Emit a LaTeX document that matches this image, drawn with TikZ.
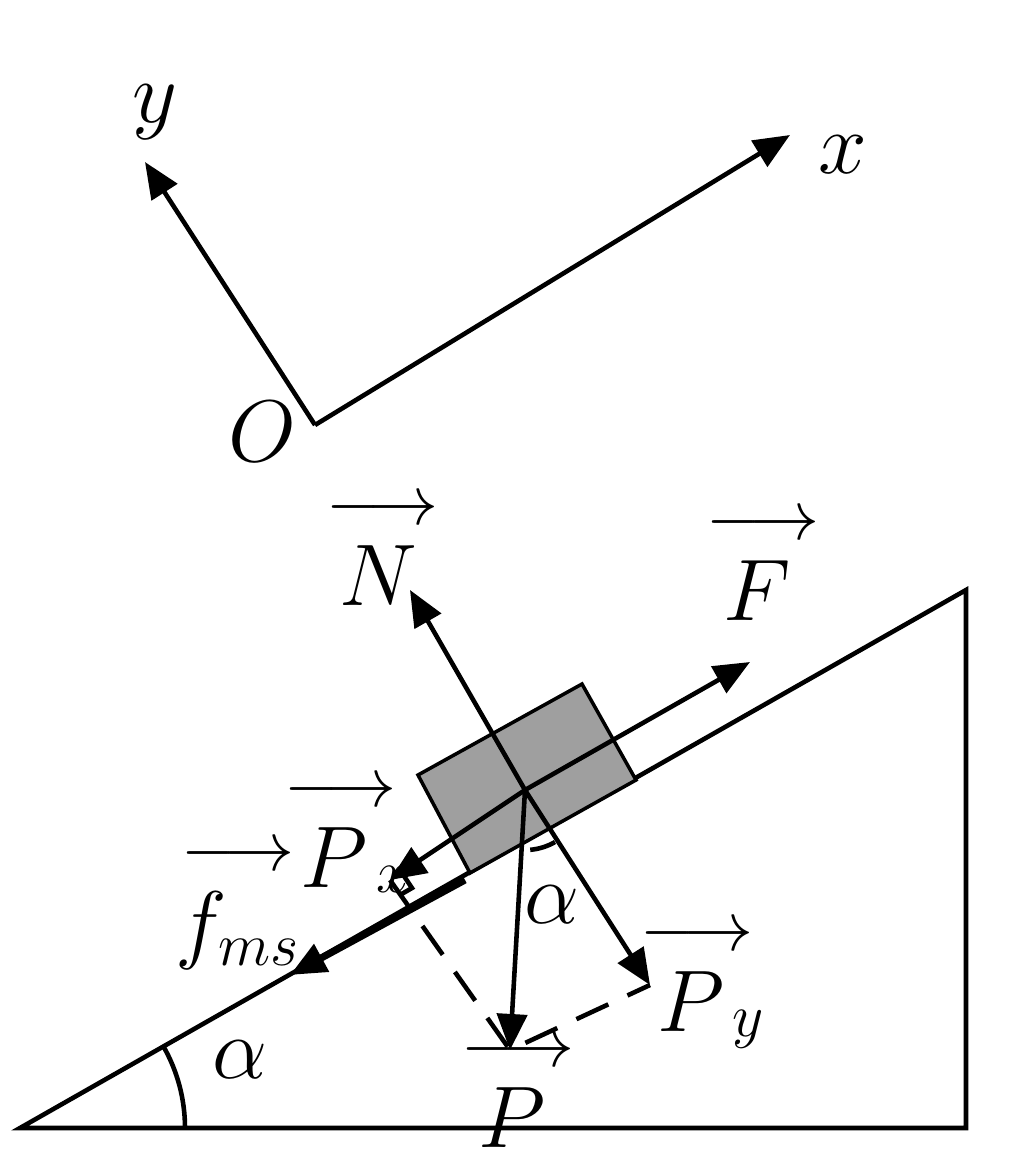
\documentclass[tikz,border=0pt]{standalone}
\usepackage{tikz}
\usetikzlibrary{positioning, calc, arrows.meta}
\tikzstyle{Arrow} = [line width=1.3pt, -{Triangle[length=0.36cm, width=0.3cm]}]
\tikzstyle{Lbl} = [font=\fontsize{27}{30}\selectfont, inner sep=1pt]
\newcommand\vlbl[1]{\ensuremath{\mathop{#1}\limits^{\raisebox{4pt}{\scalebox{0.8}{$\longrightarrow$}}}}}
\begin{document}
\begin{tikzpicture}[x=0.01cm, y=-0.01cm, line width=1.3pt]
    \useasboundingbox (0,0) rectangle (1024,1166);
    % axes
    \coordinate (O) at (315,425);
    \coordinate (xend) at (790,135);
    \coordinate (yend) at (145,162);
    \draw [Arrow] (O) -- (xend);
    \draw [Arrow] (O) -- (yend);
    \node [Lbl] (Olbl) at (262,432) {$O$};
    \node [Lbl] (xlbl) at (843,155) {$x$};
    \node [Lbl] (ylbl) at (155,112) {$y$};
    % incline
    \coordinate (A) at (20,1128);
    \coordinate (B) at (966,1128);
    \coordinate (C) at (966,590);
    \draw [line join=miter] (A) -- (B) -- (C) -- cycle;
    \draw (A) ++(165,0) arc [start angle=0, end angle=29.6, radius=1.65cm];
    \node [Lbl] (a1) at (240,1060) {$\alpha$};
    % block
    \draw [fill=gray!75, line width=1pt] (418,775) -- (582,684) -- (636,780) -- (470,873) -- cycle;
    % forces
    \coordinate (G) at (525,790);
    \coordinate (Nend) at (410,590);
    \coordinate (Fend) at (750,662);
    \coordinate (Pxend) at (390,880);
    \coordinate (Pend) at (510,1050);
    \coordinate (Pyend) at (650,985);
    \coordinate (fs) at (465,880);
    \coordinate (fend) at (290,975);
    \draw [Arrow] (G) -- (Nend);
    \draw [Arrow] (G) -- (Fend);
    \draw [Arrow] (G) -- (Pxend);
    \draw [Arrow] (G) -- (Pend);
    \draw [Arrow] (G) -- (Pyend);
    \draw [Arrow, line width=2pt] (fs) -- (fend);
    \draw [dashed, dash pattern=on 10pt off 6pt] (Pxend) -- (Pend) -- (Pyend);
    \draw (400,895) -- (412,888) -- (404,876);
    \draw (G) ++(-85:0.6cm) arc [start angle=-85, end angle=-60, radius=0.6cm];
    \node [Lbl] (a2) at (552,905) {$\alpha$};
    % labels
    \node [Lbl] (Nlbl) at (378,550) {\vlbl{N}};
    \node [Lbl] (Flbl) at (757,565) {\vlbl{F}};
    \node [Lbl] (Pxlbl) at (345,835) {\vlbl{P}$\!_x$};
    \node [Lbl] (flbl) at (238,905) {\vlbl{f_{ms}}};
    \node [Lbl] (Pylbl) at (700,985) {\vlbl{P}$\!_y$};
    \node [Lbl] (Plbl) at (512,1092) {\vlbl{P}};
\end{tikzpicture}
\end{document}
